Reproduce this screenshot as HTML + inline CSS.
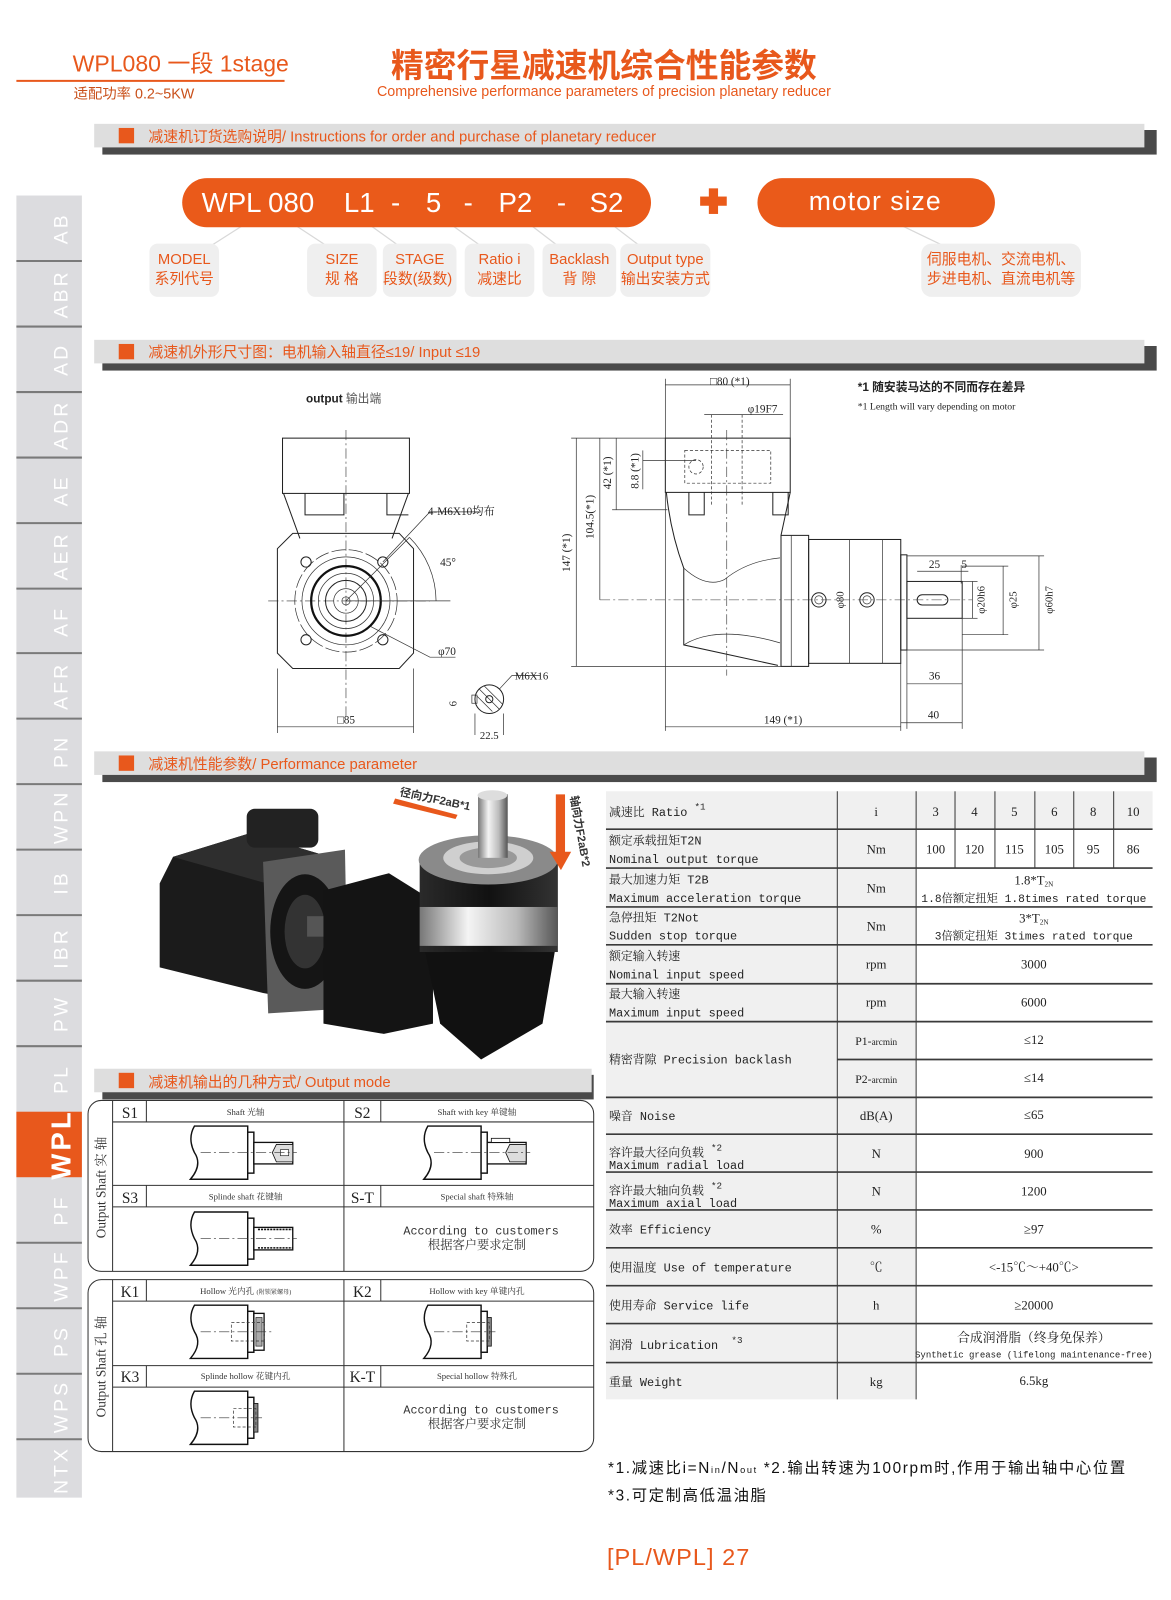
<!DOCTYPE html>
<html><head><meta charset="utf-8"><style>
html,body{margin:0;padding:0;background:#fff;}
svg{display:block;}
.o{fill:#e8581c;}
.ser{font-family:"Liberation Serif","Noto Serif CJK SC",serif;}
.mono{font-family:"Liberation Mono","Noto Serif CJK SC",monospace;}
.san{font-family:"Liberation Sans","Noto Sans CJK SC",sans-serif;}
.ln{stroke:#222;stroke-width:1;fill:none;}
.thin{stroke:#333;stroke-width:0.7;fill:none;}
.dash{stroke:#333;stroke-width:0.7;fill:none;stroke-dasharray:3 2;}
.cl{stroke:#333;stroke-width:0.6;fill:none;stroke-dasharray:10 3 2 3;}
.tl{stroke:#3a3a3a;stroke-width:1.6;}
</style></head><body>
<svg width="1171" height="1600" viewBox="0 0 1144 1563" preserveAspectRatio="none" xmlns="http://www.w3.org/2000/svg">
<rect width="1144" height="1563" fill="#fff"/>

<!-- Header -->
<text x="71" y="70" class="san o" font-size="22.5">WPL080 一段 1stage</text>
<line x1="16" y1="79" x2="278" y2="79" stroke="#e8581c" stroke-width="2"/>
<text x="72" y="96" class="san" font-size="14" fill="#c9501a">适配功率 0.2~5KW</text>
<text x="590" y="75" class="san o" font-size="32" font-weight="bold" text-anchor="middle">精密行星减速机综合性能参数</text>
<text x="590" y="94" class="san o" font-size="14" text-anchor="middle">Comprehensive performance parameters of precision planetary reducer</text>

<!-- Tabs -->
<rect x="16" y="191" width="64" height="1272" fill="#dcdcdf"/>
<g stroke="#7a7a7a" stroke-width="2">
<line x1="16" y1="255" x2="80" y2="255"/><line x1="16" y1="319" x2="80" y2="319"/><line x1="16" y1="383" x2="80" y2="383"/><line x1="16" y1="447" x2="80" y2="447"/><line x1="16" y1="511" x2="80" y2="511"/><line x1="16" y1="575" x2="80" y2="575"/><line x1="16" y1="638" x2="80" y2="638"/><line x1="16" y1="702" x2="80" y2="702"/><line x1="16" y1="766" x2="80" y2="766"/><line x1="16" y1="830" x2="80" y2="830"/><line x1="16" y1="894" x2="80" y2="894"/><line x1="16" y1="958" x2="80" y2="958"/><line x1="16" y1="1022" x2="80" y2="1022"/><line x1="16" y1="1214" x2="80" y2="1214"/><line x1="16" y1="1278" x2="80" y2="1278"/><line x1="16" y1="1342" x2="80" y2="1342"/><line x1="16" y1="1406" x2="80" y2="1406"/>
</g>
<rect x="16" y="1086" width="64" height="64" fill="#e8581c"/>
<g class="san" font-size="19" fill="#fff" letter-spacing="3" text-anchor="middle">
<text transform="translate(66,223) rotate(-90)">AB</text>
<text transform="translate(66,287) rotate(-90)">ABR</text>
<text transform="translate(66,351) rotate(-90)">AD</text>
<text transform="translate(66,415) rotate(-90)">ADR</text>
<text transform="translate(66,479) rotate(-90)">AE</text>
<text transform="translate(66,543) rotate(-90)">AER</text>
<text transform="translate(66,607) rotate(-90)">AF</text>
<text transform="translate(66,670) rotate(-90)">AFR</text>
<text transform="translate(66,734) rotate(-90)">PN</text>
<text transform="translate(66,798) rotate(-90)">WPN</text>
<text transform="translate(66,862) rotate(-90)">IB</text>
<text transform="translate(66,926) rotate(-90)">IBR</text>
<text transform="translate(66,990) rotate(-90)">PW</text>
<text transform="translate(66,1054) rotate(-90)">PL</text>
<text transform="translate(69,1118) rotate(-90)" font-size="27" font-weight="bold">WPL</text>
<text transform="translate(66,1182) rotate(-90)">PF</text>
<text transform="translate(66,1246) rotate(-90)">WPF</text>
<text transform="translate(66,1310) rotate(-90)">PS</text>
<text transform="translate(66,1374) rotate(-90)">WPS</text>
<text transform="translate(66,1436) rotate(-90)">NTX</text>
</g>

<!-- Section bars -->
<g>
<rect x="100" y="127" width="1030" height="24" fill="#4a4a4a"/>
<rect x="92" y="121" width="1026" height="23" fill="#dedede"/>
<rect x="116" y="125" width="15" height="15" fill="#e8581c"/>
<text x="145" y="138" class="san o" font-size="14.5">减速机订货选购说明/ Instructions for order and purchase of planetary reducer</text>

<rect x="100" y="338" width="1030" height="24" fill="#4a4a4a"/>
<rect x="92" y="332" width="1026" height="23" fill="#dedede"/>
<rect x="116" y="336" width="15" height="15" fill="#e8581c"/>
<text x="145" y="349" class="san o" font-size="14.5">减速机外形尺寸图：电机输入轴直径≤19/ Input ≤19</text>

<rect x="100" y="740" width="1030" height="24" fill="#4a4a4a"/>
<rect x="92" y="734" width="1026" height="23" fill="#dedede"/>
<rect x="116" y="738" width="15" height="15" fill="#e8581c"/>
<text x="145" y="751" class="san o" font-size="14.5">减速机性能参数/ Performance parameter</text>

<rect x="100" y="1050" width="480" height="24" fill="#4a4a4a"/>
<rect x="92" y="1044" width="486" height="23" fill="#dedede"/>
<rect x="116" y="1048" width="15" height="15" fill="#e8581c"/>
<text x="145" y="1062" class="san o" font-size="14.5">减速机输出的几种方式/ Output mode</text>
</g>

<!-- Order code -->
<g stroke="#d8d8d8" stroke-width="1.2">
<line x1="236" y1="221" x2="200" y2="244"/><line x1="290" y1="221" x2="325" y2="244"/><line x1="363" y1="221" x2="395" y2="244"/>
<line x1="443" y1="221" x2="475" y2="244"/><line x1="520" y1="221" x2="550" y2="244"/><line x1="600" y1="221" x2="630" y2="244"/>
<line x1="880" y1="220" x2="930" y2="244"/>
</g>
<rect x="178" y="174" width="458" height="48" rx="24" fill="#ea5a1a"/>
<g class="san" font-size="27" fill="#fff">
<text x="197" y="207">WPL 080</text><text x="336" y="207">L1</text><text x="382" y="207">-</text><text x="416" y="207">5</text><text x="453" y="207">-</text><text x="487" y="207">P2</text><text x="544" y="207">-</text><text x="576" y="207">S2</text>
</g>
<rect x="684" y="192" width="26" height="9" fill="#ea5a1a"/><rect x="692.5" y="184" width="9" height="25" fill="#ea5a1a"/>
<rect x="740" y="174" width="232" height="48" rx="24" fill="#ea5a1a"/>
<text x="855" y="205" class="san" font-size="26" fill="#fff" text-anchor="middle" letter-spacing="1">motor size</text>

<g fill="#efefef">
<rect x="146" y="238" width="68" height="52" rx="8"/>
<rect x="300" y="238" width="68" height="52" rx="8"/>
<rect x="374" y="238" width="72" height="52" rx="8"/>
<rect x="454" y="238" width="68" height="52" rx="8"/>
<rect x="530" y="238" width="72" height="52" rx="8"/>
<rect x="606" y="238" width="88" height="52" rx="8"/>
<rect x="900" y="238" width="156" height="52" rx="10"/>
</g>
<g class="san o" font-size="14.5" text-anchor="middle">
<text x="180" y="258">MODEL</text><text x="180" y="277">系列代号</text>
<text x="334" y="258">SIZE</text><text x="334" y="277">规 格</text>
<text x="410" y="258">STAGE</text><text x="408" y="277">段数(级数)</text>
<text x="488" y="258">Ratio i</text><text x="488" y="277">减速比</text>
<text x="566" y="258">Backlash</text><text x="566" y="277">背 隙</text>
<text x="650" y="258">Output type</text><text x="650" y="277">输出安装方式</text>
<text x="978" y="258">伺服电机、交流电机、</text><text x="978" y="277">步进电机、直流电机等</text>
</g>

<!-- Left view drawing -->
<text x="299" y="393" class="san" font-size="11.5" font-weight="bold" fill="#222">output <tspan font-weight="normal" fill="#555">输出端</tspan></text>
<g>
<rect x="276" y="428" width="124" height="54" class="ln"/>
<line x1="338" y1="420" x2="338" y2="700" class="cl"/>
<line x1="262" y1="587" x2="420" y2="587" class="cl"/>
<path d="M277 482 L293 526 M399 482 L383 526" class="ln"/>
<path d="M298 482 V503 H336 V482 M378 482 V503 H399" class="ln"/>
<path d="M286 521 H390 L404 536 V638 L390 653 H286 L271 638 V536 Z" class="ln"/>
<circle cx="338" cy="587" r="50" class="thin" stroke-dasharray="14 3"/>
<circle cx="338" cy="587" r="43" class="thin"/>
<circle cx="338" cy="587" r="34" stroke="#111" stroke-width="2.2" fill="none"/>
<circle cx="338" cy="587" r="27" class="thin"/>
<circle cx="338" cy="587" r="20" class="ln"/>
<circle cx="338" cy="587" r="12" class="thin"/>
<circle cx="338" cy="587" r="4" class="thin"/>
<circle cx="299" cy="549" r="5" class="ln"/><circle cx="374" cy="549" r="5" class="ln"/>
<circle cx="299" cy="625" r="5" class="ln"/><circle cx="374" cy="625" r="5" class="ln"/>
<path d="M374 549 L420 500 H470" class="thin"/>
<text x="418" y="503" class="ser" font-size="11" fill="#222">4-M6X10均布</text>
<path d="M338 587 L400 525" class="thin"/>
<path d="M400 525 A88 88 0 0 1 426 587" class="thin"/>
<line x1="338" y1="587" x2="440" y2="587" class="thin"/>
<text x="430" y="553" class="ser" font-size="11" fill="#222">45°</text>
<path d="M362 612 L420 642 H445" class="thin"/>
<text x="428" y="640" class="ser" font-size="11" fill="#222">φ70</text>
<line x1="271" y1="653" x2="271" y2="716" class="thin"/><line x1="404" y1="653" x2="404" y2="716" class="thin"/>
<line x1="271" y1="710" x2="404" y2="710" class="thin"/>
<text x="338" y="707" class="ser" font-size="11" fill="#222" text-anchor="middle">□85</text>
<circle cx="478" cy="683" r="14" class="ln"/>
<path d="M468 673 L488 693 M466 680 L481 695 M473 670 L491 688" class="thin"/>
<circle cx="478" cy="683" r="3.5" fill="#fff" class="ln"/>
<rect x="461" y="679" width="5" height="8" class="thin"/>
<path d="M488 673 L500 660 H528" class="thin"/>
<text x="503" y="664" class="ser" font-size="10.5" fill="#222">M6X16</text>
<text transform="translate(446,690) rotate(-90)" class="ser" font-size="10.5" fill="#222">6</text>
<line x1="464" y1="697" x2="464" y2="718" class="thin"/><line x1="492" y1="697" x2="492" y2="718" class="thin"/>
<text x="478" y="722" class="ser" font-size="10.5" fill="#222" text-anchor="middle">22.5</text>
</g>

<!-- Right view drawing -->
<g>
<text x="838" y="382" class="san" font-size="11.5" font-weight="bold" fill="#222">*1 随安装马达的不同而存在差异</text>
<text x="838" y="400" class="ser" font-size="9.5" fill="#222">*1 Length will vary depending on motor</text>
<line x1="650" y1="370" x2="650" y2="428" class="thin"/><line x1="772" y1="370" x2="772" y2="428" class="thin"/>
<line x1="650" y1="376" x2="772" y2="376" class="thin"/>
<text x="713" y="376" class="ser" font-size="11" fill="#222" text-anchor="middle">□80 (*1)</text>
<line x1="688" y1="405" x2="765" y2="405" class="thin"/>
<text x="745" y="403" class="ser" font-size="11" fill="#222" text-anchor="middle">φ19F7</text>
<rect x="650" y="428" width="122" height="53" class="ln"/>
<rect x="669" y="440" width="84" height="32" class="dash"/>
<circle cx="680" cy="456" r="7" class="dash"/>
<line x1="695" y1="405" x2="695" y2="495" class="dash"/><line x1="725" y1="405" x2="725" y2="495" class="dash"/>
<path d="M673 481 V503 H688 V481 M755 481 V503 H770 V481" class="ln"/>
<path d="M651 481 Q655 520 668 555 V630 L760 650 M772 481 L763 523" class="ln"/>
<path d="M668 555 Q690 575 708 566 Q730 548 762 545 M668 630 Q700 610 762 628" class="thin"/>
<rect x="763" y="523" width="27" height="128" class="ln"/>
<line x1="773" y1="523" x2="773" y2="651" class="thin"/>
<rect x="790" y="527" width="90" height="121" class="ln"/>
<line x1="830" y1="527" x2="830" y2="648" class="thin"/><line x1="862" y1="527" x2="862" y2="648" class="thin"/>
<rect x="880" y="542" width="6" height="93" class="ln"/>
<rect x="886" y="568" width="54" height="36" class="ln"/>
<rect x="896" y="581" width="30" height="10" rx="5" class="ln"/>
<circle cx="800" cy="586" r="7" class="ln"/><circle cx="800" cy="586" r="4" class="thin"/>
<circle cx="847" cy="586" r="7" class="ln"/><circle cx="847" cy="586" r="4" class="thin"/>
<line x1="586" y1="586" x2="950" y2="586" class="cl"/>
<line x1="710" y1="420" x2="710" y2="660" class="cl"/>
<text transform="translate(824,586) rotate(-90)" class="ser" font-size="10.5" fill="#222" text-anchor="middle">φ80</text>
<line x1="558" y1="428" x2="650" y2="428" class="thin"/>
<line x1="558" y1="651" x2="763" y2="651" class="thin"/>
<line x1="563" y1="428" x2="563" y2="651" class="thin"/>
<text transform="translate(557,540) rotate(-90)" class="ser" font-size="11" fill="#222" text-anchor="middle">147 (*1)</text>
<line x1="586" y1="428" x2="586" y2="586" class="thin"/>
<text transform="translate(580,505) rotate(-90)" class="ser" font-size="11" fill="#222" text-anchor="middle">104.5(*1)</text>
<line x1="602" y1="428" x2="602" y2="498" class="thin"/><line x1="598" y1="498" x2="652" y2="498" class="thin"/>
<text transform="translate(597,462) rotate(-90)" class="ser" font-size="11" fill="#222" text-anchor="middle">42 (*1)</text>
<line x1="628" y1="440" x2="628" y2="478" class="thin"/><line x1="628" y1="450" x2="680" y2="450" class="thin"/>
<text transform="translate(624,460) rotate(-90)" class="ser" font-size="11" fill="#222" text-anchor="middle">8.8 (*1)</text>
<line x1="940" y1="568" x2="955" y2="568" class="thin"/><line x1="940" y1="604" x2="955" y2="604" class="thin"/>
<line x1="950" y1="568" x2="950" y2="604" class="thin"/>
<text transform="translate(962,586) rotate(-90)" class="ser" font-size="10.5" fill="#222" text-anchor="middle">φ20h6</text>
<line x1="940" y1="553" x2="985" y2="553" class="thin"/><line x1="940" y1="620" x2="985" y2="620" class="thin"/>
<line x1="980" y1="553" x2="980" y2="620" class="thin"/>
<text transform="translate(993,586) rotate(-90)" class="ser" font-size="10.5" fill="#222" text-anchor="middle">φ25</text>
<line x1="886" y1="543" x2="1020" y2="543" class="thin"/><line x1="886" y1="635" x2="1020" y2="635" class="thin"/>
<line x1="1015" y1="543" x2="1015" y2="635" class="thin"/>
<text transform="translate(1028,586) rotate(-90)" class="ser" font-size="10.5" fill="#222" text-anchor="middle">φ60h7</text>
<line x1="896" y1="558" x2="946" y2="558" class="thin"/><line x1="939" y1="552" x2="939" y2="570" class="thin"/>
<text x="913" y="555" class="ser" font-size="11" fill="#222" text-anchor="middle">25</text>
<text x="942" y="555" class="ser" font-size="11" fill="#222" text-anchor="middle">5</text>
<line x1="886" y1="635" x2="886" y2="712" class="thin"/><line x1="940" y1="604" x2="940" y2="712" class="thin"/>
<line x1="886" y1="668" x2="940" y2="668" class="thin"/>
<text x="913" y="664" class="ser" font-size="11" fill="#222" text-anchor="middle">36</text>
<line x1="880" y1="706" x2="940" y2="706" class="thin"/>
<text x="912" y="702" class="ser" font-size="11" fill="#222" text-anchor="middle">40</text>
<line x1="650" y1="481" x2="650" y2="714" class="thin"/><line x1="880" y1="648" x2="880" y2="714" class="thin"/>
<line x1="650" y1="710" x2="880" y2="710" class="thin"/>
<text x="765" y="707" class="ser" font-size="11" fill="#222" text-anchor="middle">149 (*1)</text>
</g>

<!-- Product photo approximation -->
<defs>
<linearGradient id="silver" x1="0" x2="1" y1="0" y2="0">
<stop offset="0" stop-color="#777"/><stop offset="0.35" stop-color="#f4f4f4"/><stop offset="0.7" stop-color="#bbb"/><stop offset="1" stop-color="#555"/>
</linearGradient>
<linearGradient id="blk" x1="0" x2="1" y1="0" y2="0">
<stop offset="0" stop-color="#2a2a2a"/><stop offset="0.5" stop-color="#111"/><stop offset="1" stop-color="#333"/>
</linearGradient>
</defs>
<g>
<polygon points="156,863 169,837 244,814 332,840 335,984 257,970 156,945" fill="#1b1b1b"/>
<polygon points="169,837 244,814 332,840 257,862" fill="#2e2e2e"/>
<rect x="241" y="790" width="70" height="38" rx="8" fill="#222"/>
<polygon points="257,842 337,830 340,985 262,990" fill="#5a5a5a"/>
<ellipse cx="298" cy="910" rx="34" ry="56" fill="#151515"/>
<ellipse cx="298" cy="910" rx="20" ry="36" fill="#333"/>
<rect x="300" y="895" width="40" height="20" fill="#555"/>
<polygon points="316,870 380,853 423,880 423,1000 375,1010 316,1000" fill="#141414"/>
<polygon points="413,918 544,918 530,1000 470,1035 430,1000" fill="#111"/>
<rect x="410" y="840" width="135" height="90" fill="url(#blk)"/>
<rect x="410" y="886" width="135" height="38" fill="url(#silver)"/>
<ellipse cx="477" cy="840" rx="68" ry="24" fill="#8a8a8a"/>
<ellipse cx="477" cy="838" rx="44" ry="16" fill="#cfcfcf"/>
<ellipse cx="477" cy="838" rx="28" ry="10" fill="#999"/>
<rect x="467" y="776" width="29" height="62" fill="url(#silver)"/>
<ellipse cx="481" cy="777" rx="14.5" ry="5" fill="#ddd"/>
<polygon points="386,780 447,796 445,800 384,785" fill="#e8581c"/>
<text transform="translate(390,777) rotate(12)" class="san" font-size="11" font-weight="bold" fill="#333">径向力F2aB*1</text>
<rect x="543" y="776" width="9" height="58" fill="#e8581c"/>
<polygon points="537,832 558,832 548,850" fill="#e8581c"/>
<text transform="translate(557,778) rotate(80)" class="san" font-size="11" font-weight="bold" fill="#333">轴向力F2aB*2</text>
</g>

<!-- Output mode boxes -->
<g fill="none" stroke="#333" stroke-width="1">
<rect x="86" y="1075" width="494" height="167" rx="13"/>
<rect x="86" y="1250" width="494" height="168" rx="13"/>
<line x1="110" y1="1075" x2="110" y2="1242"/><line x1="110" y1="1250" x2="110" y2="1418"/>
<line x1="336" y1="1075" x2="336" y2="1242"/><line x1="336" y1="1250" x2="336" y2="1418"/>
<line x1="110" y1="1096" x2="580" y2="1096"/><line x1="110" y1="1158" x2="580" y2="1158"/><line x1="110" y1="1179" x2="580" y2="1179"/>
<line x1="110" y1="1271" x2="580" y2="1271"/><line x1="110" y1="1334" x2="580" y2="1334"/><line x1="110" y1="1355" x2="580" y2="1355"/>
<line x1="143" y1="1075" x2="143" y2="1096"/><line x1="143" y1="1158" x2="143" y2="1179"/>
<line x1="372" y1="1075" x2="372" y2="1096"/><line x1="372" y1="1158" x2="372" y2="1179"/>
<line x1="143" y1="1250" x2="143" y2="1271"/><line x1="143" y1="1334" x2="143" y2="1355"/>
<line x1="372" y1="1250" x2="372" y2="1271"/><line x1="372" y1="1334" x2="372" y2="1355"/>
</g>
<g class="ser" font-size="15" fill="#222" text-anchor="middle">
<text x="127" y="1092">S1</text><text x="354" y="1092">S2</text><text x="127" y="1175">S3</text><text x="354" y="1175">S-T</text>
<text x="127" y="1267">K1</text><text x="354" y="1267">K2</text><text x="127" y="1350">K3</text><text x="354" y="1350">K-T</text>
</g>
<g class="ser" font-size="8.5" fill="#333" text-anchor="middle">
<text x="240" y="1089">Shaft 光轴</text><text x="466" y="1089">Shaft with key 单键轴</text>
<text x="240" y="1172">Splinde shaft 花键轴</text><text x="466" y="1172">Special shaft 特殊轴</text>
<text x="240" y="1264">Hollow 光内孔 <tspan font-size="6">(附锁紧螺母)</tspan></text><text x="466" y="1264">Hollow with key 单键内孔</text>
<text x="240" y="1347">Splinde hollow 花键内孔</text><text x="466" y="1347">Special hollow 特殊孔</text>
</g>
<g class="mono" font-size="11.5" fill="#333" text-anchor="middle">
<text x="470" y="1206">According to customers</text><text x="466" y="1220" class="ser" font-size="12">根据客户要求定制</text>
<text x="470" y="1381">According to customers</text><text x="466" y="1395" class="ser" font-size="12">根据客户要求定制</text>
</g>
<g class="ser" font-size="13" fill="#333" text-anchor="middle">
<text transform="translate(103,1160) rotate(-90)">Output Shaft 实 轴</text>
<text transform="translate(103,1335) rotate(-90)">Output Shaft 孔 轴</text>
</g>
<defs>
<g id="body">
<path d="M4 0 H56 V52 H0 Q12 38 4 26 Q-3 12 4 0 Z" fill="#fff" stroke="#111" stroke-width="1.4"/>
<rect x="56" y="6" width="6" height="40" fill="#fff" stroke="#111" stroke-width="1.4"/>
</g>
</defs>
<g transform="translate(186,1100)">
<use href="#body"/>
<rect x="62" y="16" width="38" height="21" fill="#fff" stroke="#111" stroke-width="1.3"/>
<path d="M84 18 H100 V35 H84 L80 26 Z" fill="#ddd" stroke="#111" stroke-width="0.8"/>
<rect x="88" y="23" width="8" height="6" fill="#fff" stroke="#111" stroke-width="0.6"/>
<line x1="10" y1="26" x2="104" y2="26" class="cl"/>
</g>
<g transform="translate(414,1100)">
<use href="#body"/>
<rect x="62" y="16" width="38" height="21" fill="#fff" stroke="#111" stroke-width="1.3"/>
<rect x="66" y="12" width="18" height="4" fill="#fff" stroke="#111" stroke-width="0.8"/>
<path d="M84 18 H100 V35 H84 L80 26 Z" fill="#ddd" stroke="#111" stroke-width="0.8"/>
<line x1="10" y1="26" x2="104" y2="26" class="cl"/>
</g>
<g transform="translate(186,1184)">
<use href="#body"/>
<rect x="62" y="15" width="38" height="22" fill="#fff" stroke="#111" stroke-width="1.3"/>
<line x1="66" y1="17" x2="100" y2="17" stroke="#111" stroke-width="1.5" stroke-dasharray="2 1"/>
<line x1="66" y1="35" x2="100" y2="35" stroke="#111" stroke-width="1.5" stroke-dasharray="2 1"/>
<line x1="10" y1="26" x2="104" y2="26" class="cl"/>
</g>
<g transform="translate(186,1275)">
<use href="#body"/>
<rect x="62" y="8" width="10" height="36" fill="#fff" stroke="#111" stroke-width="1.3"/>
<rect x="64" y="12" width="6" height="28" fill="#aaa" stroke="#111" stroke-width="0.6"/>
<rect x="40" y="17" width="32" height="18" class="dash"/>
<line x1="10" y1="26" x2="80" y2="26" class="cl"/>
</g>
<g transform="translate(414,1275)">
<use href="#body"/>
<rect x="62" y="12" width="4" height="28" fill="#888" stroke="#111" stroke-width="0.8"/>
<rect x="42" y="17" width="22" height="18" class="dash"/>
<line x1="10" y1="26" x2="70" y2="26" class="cl"/>
</g>
<g transform="translate(186,1359)">
<use href="#body"/>
<rect x="62" y="12" width="4" height="28" fill="#888" stroke="#111" stroke-width="0.8"/>
<rect x="42" y="17" width="22" height="18" class="dash"/>
<line x1="10" y1="26" x2="70" y2="26" class="cl"/>
</g>

<!-- Performance table -->
<g>
<rect x="592" y="773" width="534" height="37" fill="#f0f0f0"/>
<rect x="592" y="810" width="303" height="557" fill="#f0f0f0"/>
<g class="tl">
<line x1="592" y1="810" x2="1126" y2="810"/><line x1="592" y1="848" x2="1126" y2="848"/><line x1="592" y1="886" x2="1126" y2="886"/>
<line x1="592" y1="923" x2="1126" y2="923"/><line x1="592" y1="961" x2="1126" y2="961"/><line x1="592" y1="998" x2="1126" y2="998"/>
<line x1="818" y1="1035" x2="1126" y2="1035"/><line x1="592" y1="1072" x2="1126" y2="1072"/><line x1="592" y1="1108" x2="1126" y2="1108"/>
<line x1="592" y1="1145" x2="1126" y2="1145"/><line x1="592" y1="1182" x2="1126" y2="1182"/><line x1="592" y1="1219" x2="1126" y2="1219"/>
<line x1="592" y1="1256" x2="1126" y2="1256"/><line x1="592" y1="1293" x2="1126" y2="1293"/><line x1="592" y1="1331" x2="1126" y2="1331"/>
</g>
<g stroke="#3a3a3a" stroke-width="1">
<line x1="818" y1="773" x2="818" y2="1367"/><line x1="895" y1="773" x2="895" y2="1367"/>
<line x1="933" y1="773" x2="933" y2="848"/><line x1="972" y1="773" x2="972" y2="848"/><line x1="1011" y1="773" x2="1011" y2="848"/>
<line x1="1049" y1="773" x2="1049" y2="848"/><line x1="1088" y1="773" x2="1088" y2="848"/>
</g>
<g class="mono" font-size="11.6" fill="#222">
<text x="595" y="797">减速比 Ratio <tspan font-size="9" dy="-6">*1</tspan></text>
<text x="595" y="825">额定承载扭矩T2N</text><text x="595" y="843">Nominal output torque</text>
<text x="595" y="863">最大加速力矩 T2B</text><text x="595" y="881">Maximum acceleration torque</text>
<text x="595" y="900">急停扭矩 T2Not</text><text x="595" y="918">Sudden stop torque</text>
<text x="595" y="938">额定输入转速</text><text x="595" y="956">Nominal input speed</text>
<text x="595" y="975">最大输入转速</text><text x="595" y="993">Maximum input speed</text>
<text x="595" y="1039">精密背隙 Precision backlash</text>
<text x="595" y="1094">噪音 Noise</text>
<text x="595" y="1130">容许最大径向负载 <tspan font-size="9" dy="-6">*2</tspan></text><text x="595" y="1142">Maximum radial load</text>
<text x="595" y="1167">容许最大轴向负载 <tspan font-size="9" dy="-6">*2</tspan></text><text x="595" y="1179">Maximum axial load</text>
<text x="595" y="1205">效率 Efficiency</text>
<text x="595" y="1242">使用温度 Use of temperature</text>
<text x="595" y="1279">使用寿命 Service life</text>
<text x="595" y="1318">润滑 Lubrication <tspan font-size="9" dx="6" dy="-6">*3</tspan></text>
<text x="595" y="1354">重量 Weight</text>
</g>
<g class="ser" font-size="12.5" fill="#222" text-anchor="middle">
<text x="856" y="797">i</text><text x="856" y="834">Nm</text><text x="856" y="872">Nm</text><text x="856" y="909">Nm</text>
<text x="856" y="946">rpm</text><text x="856" y="983">rpm</text>
<text x="856" y="1021" font-size="11.5">P1-<tspan font-size="9">arcmin</tspan></text><text x="856" y="1058" font-size="11.5">P2-<tspan font-size="9">arcmin</tspan></text>
<text x="856" y="1094">dB(A)</text><text x="856" y="1131">N</text><text x="856" y="1168">N</text><text x="856" y="1205">%</text>
<text x="856" y="1242">℃</text><text x="856" y="1279">h</text><text x="856" y="1354">kg</text>
<text x="914" y="797">3</text><text x="952" y="797">4</text><text x="991" y="797">5</text><text x="1030" y="797">6</text><text x="1068" y="797">8</text><text x="1107" y="797">10</text>
<text x="914" y="834">100</text><text x="952" y="834">120</text><text x="991" y="834">115</text><text x="1030" y="834">105</text><text x="1068" y="834">95</text><text x="1107" y="834">86</text>
<text x="1010" y="864">1.8*T<tspan font-size="7" dy="2">2N</tspan></text>
<text x="1010" y="881" font-size="11" class="mono">1.8倍额定扭矩 1.8times rated torque</text>
<text x="1010" y="901">3*T<tspan font-size="7" dy="2">2N</tspan></text>
<text x="1010" y="918" font-size="11" class="mono">3倍额定扭矩 3times rated torque</text>
<text x="1010" y="946">3000</text><text x="1010" y="983">6000</text>
<text x="1010" y="1020">≤12</text><text x="1010" y="1057">≤14</text>
<text x="1010" y="1093">≤65</text><text x="1010" y="1131">900</text><text x="1010" y="1168">1200</text>
<text x="1010" y="1205">≥97</text><text x="1010" y="1242">&lt;-15℃～+40℃&gt;</text><text x="1010" y="1279">≥20000</text>
<text x="1010" y="1311">合成润滑脂（终身免保养）</text>
<text x="1010" y="1326" font-size="8.8" class="mono">Synthetic grease (lifelong maintenance-free)</text>
<text x="1010" y="1353">6.5kg</text>
</g>
</g>

<!-- Footnotes -->
<g class="san" font-size="15" fill="#111" letter-spacing="1.6">
<text x="594" y="1439">*1.减速比i=N<tspan font-size="9">in</tspan>/N<tspan font-size="9">out</tspan>  *2.输出转速为100rpm时,作用于输出轴中心位置</text>
<text x="594" y="1466">*3.可定制高低温油脂</text>
</g>
<text x="663" y="1529" class="san o" font-size="23" text-anchor="middle" letter-spacing="1">[PL/WPL] 27</text>
</svg>
</body></html>
